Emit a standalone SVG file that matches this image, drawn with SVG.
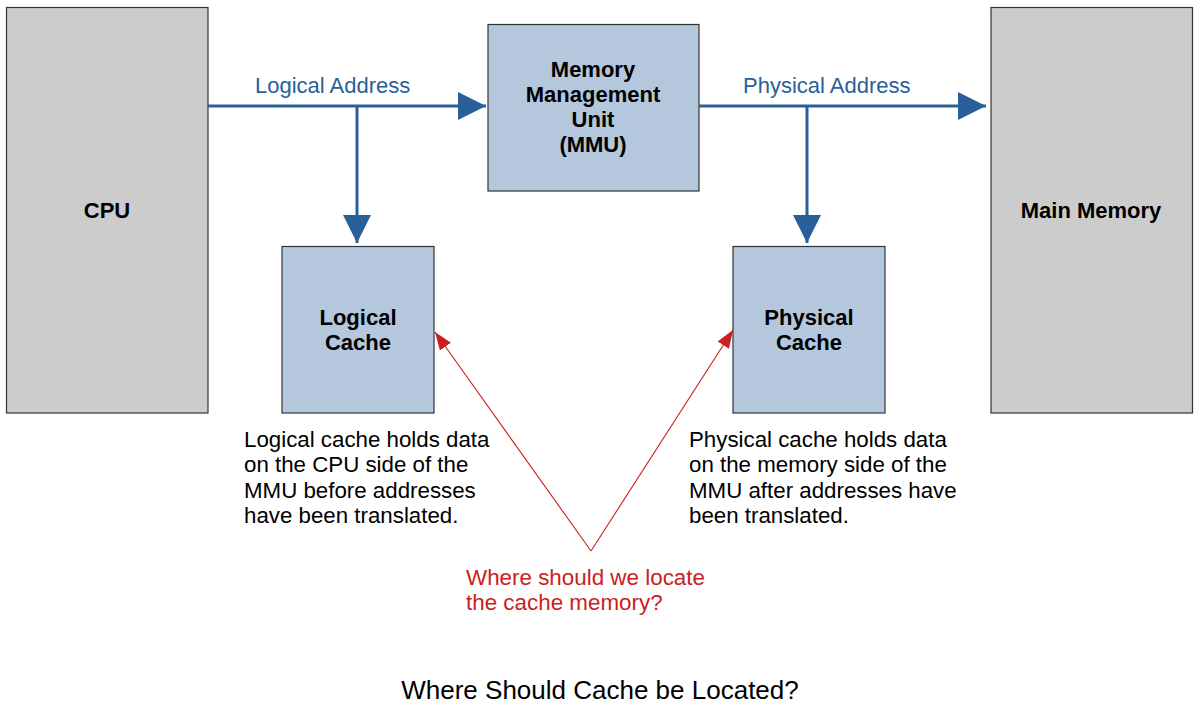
<svg xmlns="http://www.w3.org/2000/svg" width="1200" height="705" viewBox="0 0 1200 705">
<style>
.box{stroke:#333;stroke-width:1.2}
.gray{fill:#cccccc}
.blue{fill:#b4c7dc}
.lbl{font-family:"Liberation Sans",Arial,sans-serif;font-size:22px;font-weight:bold;fill:#000;text-anchor:middle}
.conn{font-family:"Liberation Sans",Arial,sans-serif;font-size:22px;fill:#2a6099}
.desc{font-family:"Liberation Sans",Arial,sans-serif;font-size:22.3px;fill:#000}
.red{font-family:"Liberation Sans",Arial,sans-serif;font-size:22.4px;fill:#c9211e}
.title{font-family:"Liberation Sans",Arial,sans-serif;font-size:26px;fill:#000;text-anchor:middle}
.bl{stroke:#2a6099;stroke-width:3;fill:none}
.rl{stroke:#c9211e;stroke-width:1.1;fill:none}
</style>
<defs>
<marker id="ab" markerUnits="userSpaceOnUse" markerWidth="28" markerHeight="28" viewBox="0 0 26 26" refX="26" refY="13" orient="auto">
<path d="M0,0 L26,13 L0,26 Z" fill="#2a6099"/>
</marker>
<marker id="ar" markerUnits="userSpaceOnUse" markerWidth="18" markerHeight="18" viewBox="0 0 16 12" refX="16" refY="6" orient="auto">
<path d="M0,0 L16,6 L0,12 Z" fill="#c9211e"/>
</marker>
</defs>
<rect width="1200" height="705" fill="#fff"/>
<g id="cpu"><rect class="box gray" x="6.5" y="7.5" width="201.5" height="405.5"/><text class="lbl" x="107" y="218">CPU</text></g>
<g id="main-memory"><rect class="box gray" x="991" y="7.5" width="201.5" height="405.5"/><text class="lbl" x="1091" y="218">Main Memory</text></g>
<g id="mmu"><rect class="box blue" x="488" y="24.5" width="211" height="166.5"/>
<text class="lbl" x="593" y="77">Memory</text><text class="lbl" x="593" y="102">Management</text><text class="lbl" x="593" y="127">Unit</text><text class="lbl" x="593" y="152">(MMU)</text></g>
<g id="logical-cache"><rect class="box blue" x="282" y="246.5" width="152" height="166.5"/>
<text class="lbl" x="358" y="325">Logical</text><text class="lbl" x="358" y="350">Cache</text></g>
<g id="physical-cache"><rect class="box blue" x="733" y="246.5" width="152" height="166.5"/>
<text class="lbl" x="809" y="325">Physical</text><text class="lbl" x="809" y="350">Cache</text></g>
<g id="connectors">
<line class="bl" x1="208" y1="106" x2="486" y2="106" marker-end="url(#ab)"/>
<line class="bl" x1="357" y1="106" x2="357" y2="243" marker-end="url(#ab)"/>
<line class="bl" x1="699" y1="106" x2="986" y2="106" marker-end="url(#ab)"/>
<line class="bl" x1="807" y1="106" x2="807" y2="243" marker-end="url(#ab)"/>
<line class="rl" x1="591" y1="551" x2="435" y2="332" marker-end="url(#ar)"/>
<line class="rl" x1="591" y1="551" x2="733" y2="330" marker-end="url(#ar)"/>
<text class="conn" x="255" y="93">Logical Address</text>
<text class="conn" x="743" y="93">Physical Address</text>
</g>
<g id="logical-desc"><text class="desc" x="244" y="447">Logical cache holds data</text><text class="desc" x="244" y="472">on the CPU side of the</text><text class="desc" x="244" y="498">MMU before addresses</text><text class="desc" x="244" y="523">have been translated.</text></g>
<g id="physical-desc"><text class="desc" x="689" y="447">Physical cache holds data</text><text class="desc" x="689" y="472">on the memory side of the</text><text class="desc" x="689" y="498">MMU after addresses have</text><text class="desc" x="689" y="523">been translated.</text></g>
<g id="question"><text class="red" x="466" y="585">Where should we locate</text><text class="red" x="466" y="610">the cache memory?</text></g>
<text class="title" x="600" y="699">Where Should Cache be Located?</text>
</svg>
